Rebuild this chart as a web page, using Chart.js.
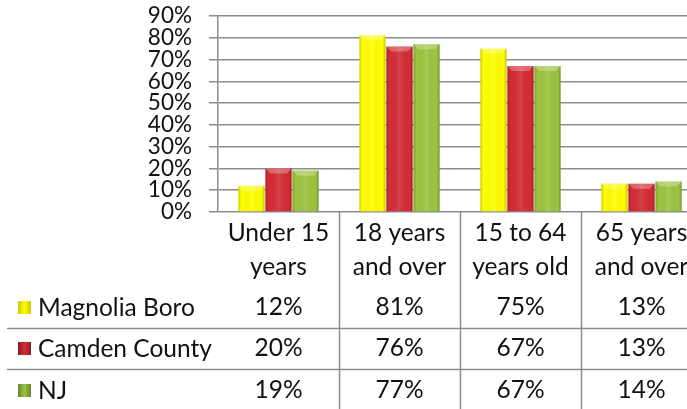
<!DOCTYPE html>
<html>
<head>
<meta charset="utf-8">
<script src="https://cdn.jsdelivr.net/npm/chart.js@4/dist/chart.umd.min.js"></script>
<style>
    html, body { margin: 0; padding: 0; background: #fff; overflow: hidden; }
    #wrap { width: 710px; height: 409px; }
</style>
</head>
<body>
<div id="wrap"><canvas id="ageChart" width="710" height="409"></canvas></div>
<script>
// Chart data
const categories = [['Under 15', 'years'], ['18 years', 'and over'], ['15 to 64', 'years old'], ['65 years', 'and over']];
const seriesNames = ['Magnolia Boro', 'Camden County', 'NJ'];
const magnoliaValues = [12, 81, 75, 13];
const camdenValues = [20, 76, 67, 13];
const njValues = [19, 77, 67, 14];
const yTicks = [0, 10, 20, 30, 40, 50, 60, 70, 80, 90];

const FONT = 'Lato, "Open Sans", sans-serif';
const FONT_SIZE = 24.5;
const GRID = '#8c8c8c';

// base colour, dark edge colour for each series
const seriesColors = [
    ['#ffff00', '#c9c900'],
    ['#d42c35', '#8c1b20'],
    ['#9cc43f', '#67862a']
];

// Shades each bar a little so it looks like the bevelled Excel bars
const bevelPlugin = {
    id: 'bevel',
    afterDatasetsDraw(chart) {
        const ctx = chart.ctx;
        chart.data.datasets.forEach(function (ds, di) {
            const meta = chart.getDatasetMeta(di);
            meta.data.forEach(function (bar) {
                const left = bar.x - bar.width / 2;
                const right = bar.x + bar.width / 2;
                const top = bar.y;
                const h = bar.base - bar.y;
                const g = ctx.createLinearGradient(left, 0, right, 0);
                g.addColorStop(0, 'rgba(0,0,0,0.18)');
                g.addColorStop(0.12, 'rgba(0,0,0,0)');
                g.addColorStop(0.5, 'rgba(255,255,255,0.10)');
                g.addColorStop(0.88, 'rgba(0,0,0,0)');
                g.addColorStop(1, 'rgba(0,0,0,0.22)');
                ctx.save();
                ctx.fillStyle = g;
                ctx.fillRect(left, top, bar.width, h);
                // top bevel
                const b = Math.min(5, h / 2);
                ctx.fillStyle = 'rgba(255,255,255,0.28)';
                ctx.beginPath();
                ctx.moveTo(left, top);
                ctx.lineTo(right, top);
                ctx.lineTo(right - b, top + b);
                ctx.lineTo(left + b, top + b);
                ctx.closePath();
                ctx.fill();
                ctx.restore();
            });
        });
    }
};

// Draws the data table under the plot, using the x scale for column positions
const dataTablePlugin = {
    id: 'dataTable',
    afterDraw(chart) {
        const ctx = chart.ctx;
        const x = chart.scales.x;
        const area = chart.chartArea;
        const step = x.getPixelForValue(1) - x.getPixelForValue(0);
        const bottom = area.bottom;
        const h = chart.height;
        const rows = [magnoliaValues, camdenValues, njValues];
        const rowY = [bottom + 95, bottom + 136, bottom + 178];
        const sepY = [bottom + 116, bottom + 157];

        ctx.save();
        ctx.strokeStyle = GRID;
        ctx.lineWidth = 1.5;
        // column separators
        for (let i = 1; i < categories.length; i++) {
            const bx = Math.round(x.getPixelForValue(i) - step / 2) + 0.5;
            ctx.beginPath();
            ctx.moveTo(bx, bottom);
            ctx.lineTo(bx, h);
            ctx.stroke();
        }
        // row separators
        sepY.forEach(function (y) {
            ctx.beginPath();
            ctx.moveTo(7, Math.round(y) + 0.5);
            ctx.lineTo(chart.width, Math.round(y) + 0.5);
            ctx.stroke();
        });

        ctx.fillStyle = '#111';
        ctx.font = FONT_SIZE + 'px ' + FONT;
        ctx.textAlign = 'center';
        ctx.textBaseline = 'middle';
        // category headers
        categories.forEach(function (lines, i) {
            const cx = x.getPixelForValue(i);
            ctx.fillText(lines[0], cx, bottom + 21);
            ctx.fillText(lines[1], cx, bottom + 55);
        });
        // values
        rows.forEach(function (vals, r) {
            vals.forEach(function (v, i) {
                ctx.fillText(v + '%', x.getPixelForValue(i), rowY[r]);
            });
        });
        // legend keys and series names
        ctx.textAlign = 'left';
        seriesNames.forEach(function (name, r) {
            const y = rowY[r];
            const g = ctx.createLinearGradient(18, 0, 31, 0);
            g.addColorStop(0, seriesColors[r][1]);
            g.addColorStop(0.5, seriesColors[r][0]);
            g.addColorStop(1, seriesColors[r][1]);
            ctx.fillStyle = g;
            ctx.fillRect(18, y - 6, 13, 13);
            ctx.fillStyle = '#111';
            ctx.fillText(name, 38, y + 1);
        });
        ctx.restore();
    }
};

document.addEventListener('DOMContentLoaded', function () {
    const ctx = document.getElementById('ageChart').getContext('2d');
    const valueSets = [magnoliaValues, camdenValues, njValues];

    new Chart(ctx, {
        type: 'bar',
        data: {
            labels: categories,
            datasets: seriesNames.map(function (name, i) {
                return {
                    label: name,
                    data: valueSets[i],
                    backgroundColor: seriesColors[i][0],
                    borderWidth: 0,
                    barPercentage: 0.97,
                    categoryPercentage: 0.67
                };
            })
        },
        options: {
            responsive: false,
            animation: false,
            layout: { padding: { top: 16, bottom: 197, left: 0, right: 8 } },
            plugins: {
                legend: { display: false },
                tooltip: { enabled: false }
            },
            scales: {
                x: { display: false },
                y: {
                    min: 0,
                    max: 90,
                    afterFit: function (scale) {
                        scale.width = 218;
                        // the tick padding would otherwise push the plot down
                        scale.paddingTop = 0;
                        scale.paddingBottom = 0;
                    },
                    afterBuildTicks: function (scale) {
                        scale.ticks = yTicks.map(function (v) { return { value: v }; });
                    },
                    ticks: {
                        autoSkip: false,
                        padding: 17,
                        color: '#111',
                        font: { family: FONT, size: 22.5, lineHeight: 1 },
                        callback: function (value) { return value + '%'; }
                    },
                    grid: { color: GRID, lineWidth: 1.5, tickLength: 9 },
                    border: { color: GRID, width: 1.5 }
                }
            }
        },
        plugins: [bevelPlugin, dataTablePlugin]
    });
});
</script>
</body>
</html>
